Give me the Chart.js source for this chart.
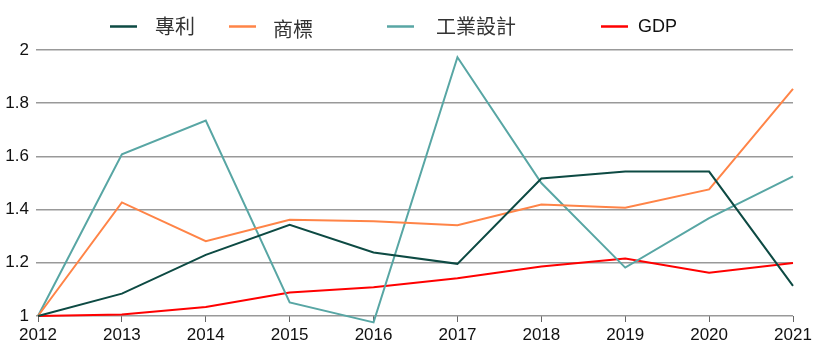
<!DOCTYPE html>
<html>
<head>
<meta charset="utf-8">
<script src="https://cdn.jsdelivr.net/npm/chart.js@4"></script>
<style>
html,body{margin:0;padding:0;background:#fff;}
#wrap{width:821px;height:355px;position:relative;}
</style>
</head>
<body>
<div id="wrap"><canvas id="c" width="821" height="355"></canvas></div>
<script>
const years = ['2012','2013','2014','2015','2016','2017','2018','2019','2020','2021'];
const patent = [1, 1.084, 1.23, 1.343, 1.239, 1.196, 1.517, 1.543, 1.543, 1.113];
const trademark = [1, 1.427, 1.281, 1.362, 1.356, 1.341, 1.419, 1.407, 1.476, 1.854];
const design = [1, 1.608, 1.735, 1.051, 0.976, 1.973, 1.5, 1.182, 1.368, 1.525];
const gdp = [1, 1.006, 1.034, 1.088, 1.108, 1.142, 1.186, 1.216, 1.163, 1.199];
const seriesLabels = ['專利', '商標', '工業設計', 'GDP'];
const yTicks = [1, 1.2, 1.4, 1.6, 1.8, 2];

const colors = ['#0d4a43', '#ff8447', '#58a6a4', '#ff0000'];
const legendPos = [
  {lx:110, tx:155, ty:26, font:'20px "Noto Sans CJK TC", sans-serif', color:'#333'},
  {lx:229, tx:273, ty:29, font:'20px "Noto Sans CJK TC", sans-serif', color:'#333'},
  {lx:387, tx:436, ty:26, font:'20px "Noto Sans CJK TC", sans-serif', color:'#333'},
  {lx:601, tx:638, ty:27, font:'18px "Liberation Sans", Arial, sans-serif', color:'#111'}
];

const customLegend = {
  id: 'customLegend',
  afterDraw(chart) {
    const ctx = chart.ctx;
    ctx.save();
    chart.data.datasets.forEach((ds, i) => {
      const p = legendPos[i];
      ctx.strokeStyle = ds.borderColor;
      ctx.lineWidth = 2.5;
      ctx.beginPath();
      ctx.moveTo(p.lx, 26.5);
      ctx.lineTo(p.lx + 27, 26.5);
      ctx.stroke();
      ctx.fillStyle = p.color;
      ctx.font = p.font;
      ctx.textBaseline = 'middle';
      ctx.textAlign = 'left';
      ctx.fillText(ds.label, p.tx, p.ty);
    });
    ctx.restore();
  }
};

const datasets = [patent, trademark, design, gdp].map((d, i) => ({
  label: seriesLabels[i],
  data: d,
  borderColor: colors[i],
  backgroundColor: colors[i],
  borderWidth: 2,
  pointRadius: 0,
  tension: 0,
  clip: false
}));

new Chart(document.getElementById('c'), {
  type: 'line',
  data: { labels: years, datasets },
  options: {
    responsive: false,
    animation: false,
    layout: { padding: { top: 50, right: 28, left: 0, bottom: 0 } },
    plugins: { legend: { display: false }, tooltip: { enabled: false } },
    scales: {
      x: {
        offset: false,
        border: { display: false },
        grid: { drawOnChartArea: false, drawTicks: true, tickLength: 6, color: '#666', lineWidth: 1 },
        ticks: { color: '#111', padding: 3, maxRotation: 0, autoSkip: false,
                 font: { family: '"Liberation Sans", Arial, sans-serif', size: 17 } },
        afterFit(s) { s.height = 39; }
      },
      y: {
        min: 1, max: 2,
        border: { display: false },
        afterBuildTicks(s) { s.ticks = yTicks.map(v => ({ value: v })); },
        grid: { color: '#999', lineWidth: 1.5, drawTicks: true, tickLength: 2 },
        ticks: { color: '#111', padding: 7,
                 font: { family: '"Liberation Sans", Arial, sans-serif', size: 17 },
                 callback: v => String(Math.round(v * 10) / 10) },
        afterFit(s) { s.width = 38; }
      }
    }
  },
  plugins: [customLegend]
});
</script>
</body>
</html>
